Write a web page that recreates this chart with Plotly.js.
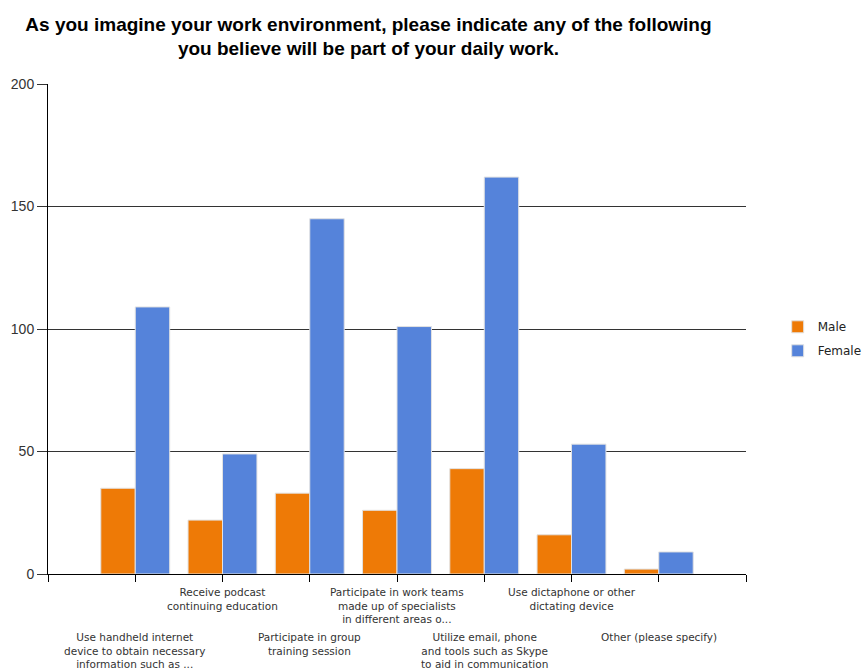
<!DOCTYPE html>
<html><head><meta charset="utf-8">
<script src="https://cdn.plot.ly/plotly-3.0.1.min.js"></script>
<style>body{margin:0;background:#fff}#c{width:867px;height:669px}</style>
</head><body><div id="c"></div>
<script>
const categories = [
  "Use handheld internet<br>device to obtain necessary<br>information such as ...",
  "Receive podcast<br>continuing education",
  "Participate in group<br>training session",
  "Participate in work teams<br>made up of specialists<br>in different areas o...",
  "Utilize email, phone<br>and tools such as Skype<br>to aid in communication",
  "Use dictaphone or other<br>dictating device",
  "Other (please specify)"
];
const maleValues = [35, 22, 33, 26, 43, 16, 2];
const femaleValues = [109, 49, 145, 101, 162, 53, 9];
const seriesNames = ["Male", "Female"];
const yTicks = [0, 50, 100, 150, 200];

const pos = categories.map((_, i) => i + 1);
const traces = [
  {type: 'bar', name: seriesNames[0], x: pos, y: maleValues, legendgroup: 'm',
   marker: {color: '#EE7A06', line: {color: '#E2E2E2', width: 1}}},
  {type: 'bar', name: seriesNames[1], x: pos, y: femaleValues, legendgroup: 'f',
   marker: {color: '#5583DA', line: {color: '#E2E2E2', width: 1}}}
];
const annotations = categories.map((c, i) => ({
  x: i + 1, xref: 'x', y: (i % 2 === 0) ? -0.112 : -0.021, yref: 'paper',
  yanchor: 'top', xanchor: 'center', showarrow: false, text: c,
  font: {family: 'DejaVu Sans, sans-serif', size: 10.5, color: '#333'},
  align: 'center'
}));
const layout = {
  width: 867, height: 669,
  margin: {l: 48, r: 121, t: 84, b: 95, autoexpand: false},
  paper_bgcolor: '#fff', plot_bgcolor: '#fff',
  title: {text: 'As you imagine your work environment, please indicate any of the following<br>you believe will be part of your daily work.',
          x: 0.425, xanchor: 'center', y: 0.954, yanchor: 'middle',
          font: {family: 'Liberation Sans, Arial, sans-serif', size: 19, color: '#000', weight: 'bold'}},
  barmode: 'group', bargap: 0.21, bargroupgap: 0,
  xaxis: {range: [0, 8], tickvals: [0,1,2,3,4,5,6,7,8], showticklabels: false,
          ticks: 'outside', ticklen: 7, tickcolor: '#000', showgrid: false,
          showline: true, linecolor: '#000', linewidth: 1, zeroline: false, fixedrange: true},
  yaxis: {range: [0, 200], tickvals: yTicks, ticks: 'outside', ticklen: 10, tickcolor: '#333',
          showgrid: true, gridcolor: '#333', gridwidth: 1, showline: true, linecolor: '#000',
          zeroline: false, tickfont: {family: 'Liberation Sans, Arial, sans-serif', size: 14, color: '#333'}},
  legend: {xref: 'container', x: 0.897, xanchor: 'left', yref: 'paper', y: 0.48, yanchor: 'middle',
           traceorder: 'grouped', tracegroupgap: 5,
           font: {family: 'DejaVu Sans, sans-serif', size: 12, color: '#222'},
           itemwidth: 30},
  annotations: annotations,
  showlegend: true
};
Plotly.newPlot('c', traces, layout, {displayModeBar: false, staticPlot: true});
</script></body></html>
